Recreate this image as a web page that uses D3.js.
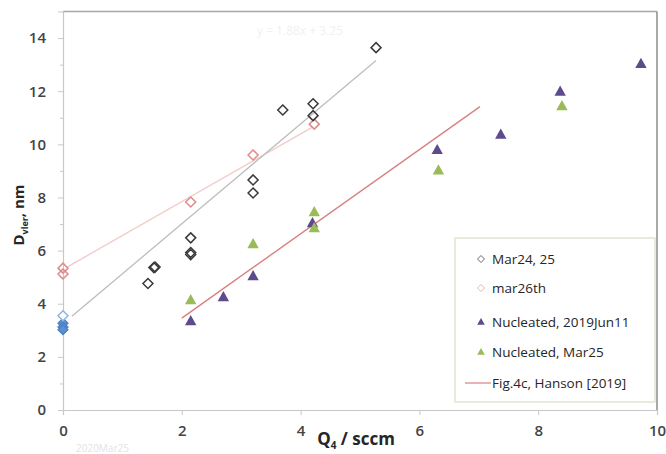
<!DOCTYPE html>
<html><head><meta charset="utf-8">
<script src="https://cdn.jsdelivr.net/npm/d3@7"></script>
<style>body{margin:0;background:#fff}svg{display:block;font-family:"Open Sans",Lato,sans-serif}</style>
</head><body><svg id="c" width="666" height="454"></svg>
<script>
const mar2425X = [1.43, 1.53, 1.55, 2.15, 2.15, 2.15, 3.2, 3.2, 3.7, 4.21, 4.21, 5.27];
const mar2425Y = [4.76, 5.36, 5.38, 6.48, 5.93, 5.85, 8.66, 8.17, 11.29, 11.53, 11.08, 13.64];
const baseOpenX = [0];
const baseOpenY = [3.55];
const baseFillX = [0, 0, 0];
const baseFillY = [3.27, 3.12, 3.02];
const mar26X = [0, 0, 2.15, 3.2, 4.23];
const mar26Y = [5.34, 5.12, 7.83, 9.6, 10.76];
const jun11X = [2.15, 2.7, 3.2, 4.2, 6.3, 7.37, 8.37, 9.73];
const jun11Y = [3.35, 4.25, 5.04, 7.04, 9.79, 10.37, 11.99, 13.03];
const nucMar25X = [2.15, 3.2, 4.23, 4.23, 6.32, 8.4];
const nucMar25Y = [4.14, 6.25, 7.45, 6.85, 9.02, 11.44];
const fitGrayX = [0.15, 5.27];
const fitGrayY = [3.53, 13.16];
const fitPinkX = [0.07, 4.2];
const fitPinkY = [5.38, 10.65];
const hansonX = [2.0, 7.02];
const hansonY = [3.46, 11.42];
const xTicks = [0, 2, 4, 6, 8, 10];
const yTicks = [0, 2, 4, 6, 8, 10, 12, 14];
const yMinor = [1, 3, 5, 7, 9, 11, 13];
const legendLabels = ["Mar24, 25", "mar26th", "Nucleated, 2019Jun11", "Nucleated, Mar25", "Fig.4c, Hanson [2019]"];

const svg = d3.select("#c");
const x = d3.scaleLinear().domain([0, 10]).range([63, 657]);
const y = d3.scaleLinear().domain([0, 15]).range([410, 11.5]);

// frame top/right
svg.append("line").attr("x1", x(0)).attr("x2", x(10)).attr("y1", y(15)).attr("y2", y(15)).attr("stroke", "#a6a6a6").attr("stroke-width", 1.5);
svg.append("line").attr("x1", x(10)).attr("x2", x(10)).attr("y1", y(15)).attr("y2", y(0)).attr("stroke", "#8c8c8c").attr("stroke-width", 1.5);

// axes
const xa = svg.append("g").attr("transform", `translate(0,${y(0)})`)
  .call(d3.axisBottom(x).tickValues(xTicks).tickSize(5).tickPadding(10).tickFormat(d3.format("d")));
const ya = svg.append("g").attr("transform", `translate(${x(0)},0)`)
  .call(d3.axisLeft(y).tickValues(yTicks).tickSize(5).tickPadding(12).tickFormat(d3.format("d")));
svg.append("g").attr("transform", `translate(${x(0)},0)`)
  .call(d3.axisLeft(y).tickValues(yMinor).tickSize(3).tickFormat(""))
  .call(g => g.select(".domain").remove());
svg.selectAll(".domain").attr("stroke", "#c8c8c8").attr("stroke-width", 1.2);
svg.selectAll(".tick line").attr("stroke", "#c8c8c8");
svg.selectAll(".tick text").attr("font-size", 15).attr("font-weight", 600).attr("fill", "#444").attr("font-family", "Open Sans, sans-serif");
xa.selectAll(".tick text").attr("dy", "0.71em");

// trend lines
const ln = d3.line().x(d => x(d[0])).y(d => y(d[1]));
svg.append("path").attr("d", ln(fitPinkX.map((v, i) => [v, fitPinkY[i]]))).attr("stroke", "#f2c9c9").attr("stroke-width", 1.3).attr("fill", "none");
svg.append("path").attr("d", ln(fitGrayX.map((v, i) => [v, fitGrayY[i]]))).attr("stroke", "#bdbdbd").attr("stroke-width", 1.3).attr("fill", "none");
svg.append("path").attr("d", ln(hansonX.map((v, i) => [v, hansonY[i]]))).attr("stroke", "#d98080").attr("stroke-width", 1.4).attr("fill", "none");

// symbols
const diamond = s => `M0,${-s}L${s},0L0,${s}L${-s},0Z`;
const tri = s => `M0,${-s}L${s * 0.95},${s * 0.7}L${-s * 0.95},${s * 0.7}Z`;
function pts(xs, ys, path, fill, stroke, sw) {
  svg.append("g").selectAll("path").data(xs.map((v, i) => [v, ys[i]])).join("path")
    .attr("transform", d => `translate(${x(d[0])},${y(d[1])})`)
    .attr("d", path).attr("fill", fill).attr("stroke", stroke).attr("stroke-width", sw);
}
pts(baseFillX, baseFillY, diamond(5), "#5b8fd0", "#4a7fc4", 1.2);
pts(baseOpenX, baseOpenY, diamond(5), "#fff", "#8db4e2", 1.5);
pts(mar26X, mar26Y, diamond(5), "none", "#e08a8a", 1.5);
pts(mar2425X, mar2425Y, diamond(5), "none", "#3a3a3a", 1.5);
pts(jun11X, jun11Y, tri(6), "#5e4b8b", "none", 0);
pts(nucMar25X, nucMar25Y, tri(6), "#9bbb59", "none", 0);

// faint annotations
svg.append("text").attr("x", 300).attr("y", 35).attr("text-anchor", "middle").attr("font-size", 12).attr("fill", "#f1f1f1").text("y = 1.88x + 3.25");
svg.append("text").attr("x", 76).attr("y", 452).attr("font-size", 10).attr("fill", "#e3e3e3").text("2020Mar25");

// axis titles
const xt = svg.append("text").attr("x", 356).attr("y", 445).attr("text-anchor", "middle").attr("font-weight", "bold").attr("font-size", 17).attr("fill", "#262626");
xt.append("tspan").text("Q");
xt.append("tspan").attr("font-size", 10).attr("dy", 4).text("4");
xt.append("tspan").attr("dy", -4).text(" / sccm");
const yt = svg.append("text").attr("transform", "translate(24,215) rotate(-90)").attr("text-anchor", "middle").attr("font-weight", "bold").attr("font-size", 15).attr("fill", "#262626");
yt.append("tspan").text("D");
yt.append("tspan").attr("font-size", 9).attr("dy", 4).text("vler");
yt.append("tspan").attr("dy", -4).text(", nm");

// legend
const lg = svg.append("g");
lg.append("rect").attr("x", 455).attr("y", 238).attr("width", 200).attr("height", 164).attr("fill", "#fff").attr("stroke", "#dcdcc4").attr("stroke-width", 1.2);
const ly = [259, 288, 322, 352, 383];
const lgSym = [
  g => g.append("path").attr("d", diamond(3.5)).attr("fill", "none").attr("stroke", "#6a6a6a").attr("stroke-width", 1),
  g => g.append("path").attr("d", diamond(3.5)).attr("fill", "none").attr("stroke", "#f0b0b0").attr("stroke-width", 1),
  g => g.append("path").attr("d", tri(4)).attr("fill", "#5e4b8b"),
  g => g.append("path").attr("d", tri(4)).attr("fill", "#9bbb59"),
  g => g.append("line").attr("x1", -13).attr("x2", 13).attr("stroke", "#d98080").attr("stroke-width", 1.2)
];
legendLabels.forEach((t, i) => {
  const g = lg.append("g").attr("transform", `translate(${i === 4 ? 478 : 481},${ly[i]})`);
  lgSym[i](g);
  lg.append("text").attr("x", 492).attr("y", ly[i]).attr("dy", "0.35em").attr("font-size", 13.5).attr("font-weight", 500).attr("fill", "#262626").text(t);
});
</script></body></html>
